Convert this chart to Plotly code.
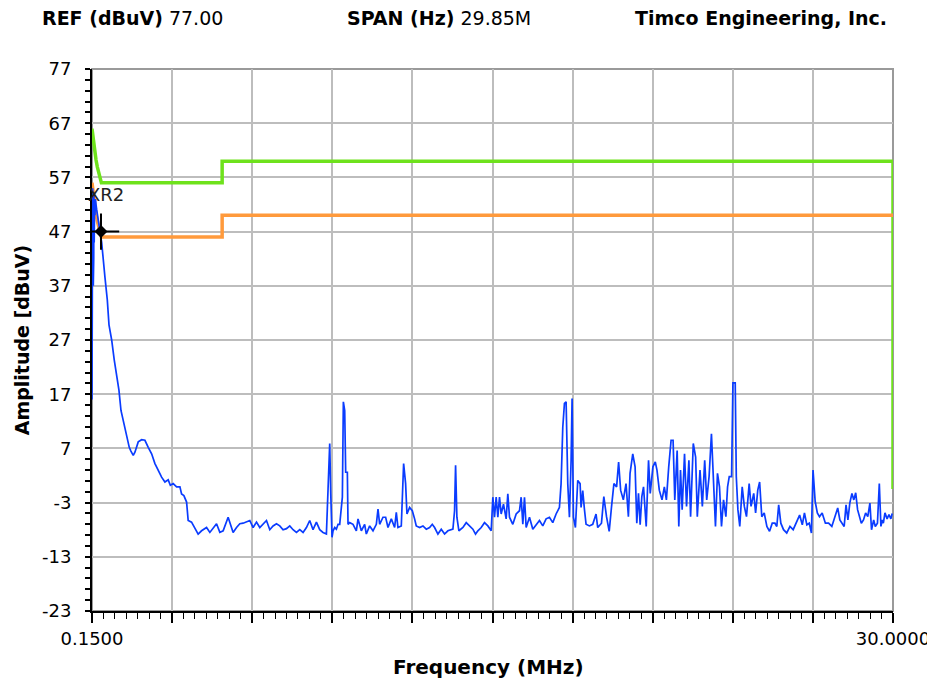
import plotly.graph_objects as go

# ---------------- data ----------------
freq_mhz = [
    0.150, 0.158, 0.166, 0.174, 0.182, 0.190, 0.198, 0.206, 0.214, 0.222, 0.232, 0.245, 0.260, 0.280, 0.300,
    0.325, 0.410, 0.510, 0.634, 0.720, 0.783, 0.883, 0.980, 1.069, 1.155, 1.230, 1.315, 1.378, 1.441, 1.538,
    1.600, 1.687, 1.750, 1.873, 2.000, 2.123, 2.245, 2.372, 2.495, 2.618, 2.744, 2.867, 2.990, 3.070, 3.176,
    3.303, 3.426, 3.488, 3.574, 3.675,
    3.734, 3.860, 3.983, 4.106, 4.233, 4.419, 4.542, 4.665, 4.791, 4.914, 5.037, 5.223, 5.286, 5.409, 5.536,
    5.659, 5.782, 5.908, 6.031, 6.154, 6.280, 6.403, 6.526, 6.652, 6.775, 6.898, 7.024, 7.147, 7.270, 7.397,
    7.520, 7.643, 7.769, 7.892, 8.015, 8.141, 8.264, 8.387, 8.513, 8.636, 8.759,
    8.885, 8.947, 9.009, 9.046, 9.095, 9.133, 9.195, 9.257, 9.319, 9.381, 9.443, 9.480, 9.517, 9.567, 9.604,
    9.666, 9.691, 9.753, 9.877, 10.001, 10.063, 10.187, 10.311, 10.373, 10.497, 10.622, 10.746, 10.808, 10.870,
    10.994, 11.093, 11.180, 11.304, 11.428, 11.490, 11.552, 11.676, 11.763, 11.837, 11.887, 11.986, 12.086,
    12.172, 12.234, 12.359, 12.483, 12.607, 12.731, 12.830, 12.917, 13.041, 13.165, 13.289, 13.413, 13.600,
    13.661, 13.699, 13.748, 13.823, 13.972, 14.096, 14.220, 14.344, 14.443, 14.530, 14.654, 14.778, 14.902,
    15.026, 15.088, 15.150, 15.212, 15.274, 15.336, 15.398, 15.485, 15.584, 15.646, 15.708, 15.832, 15.957,
    16.081, 16.143, 16.205, 16.267, 16.329, 16.453, 16.577, 16.701, 16.825, 16.949, 17.073, 17.197, 17.321,
    17.445, 17.569, 17.631, 17.694, 17.756, 17.818, 17.880, 17.942, 18.004, 18.041, 18.091, 18.165, 18.252,
    18.339, 18.376, 18.438, 18.500, 18.562, 18.686, 18.810, 18.934, 18.996,
    19.136, 19.224, 19.324, 19.424, 19.512, 19.600, 19.700, 19.775, 19.850, 19.951, 20.051, 20.139, 20.201,
    20.302, 20.389, 20.452, 20.515, 20.577, 20.640, 20.703, 20.803, 20.890, 20.953, 21.053, 21.141, 21.204,
    21.291, 21.392, 21.479, 21.555, 21.642, 21.730, 21.805, 21.868, 21.956, 22.018, 22.081, 22.143, 22.231,
    22.306, 22.394, 22.457, 22.557, 22.645, 22.707, 22.808, 22.895, 22.983, 23.058, 23.146, 23.234, 23.309,
    23.384, 23.459, 23.534, 23.609, 23.685, 23.772, 23.835, 23.898, 23.985, 24.035, 24.120, 24.160, 24.220,
    24.290, 24.380, 24.460, 24.540, 24.640, 24.710, 24.810, 24.880, 24.960, 25.030, 25.110, 25.200, 25.300,
    25.400, 25.500, 25.600, 25.670, 25.740, 25.820, 25.920, 26.040, 26.160, 26.280, 26.400, 26.520, 26.620,
    26.700, 26.790, 26.880, 26.960, 27.020, 27.100, 27.180, 27.260, 27.360, 27.480, 27.600, 27.720, 27.840,
    27.940, 28.020, 28.100, 28.180, 28.250, 28.320, 28.390, 28.470, 28.540, 28.610, 28.680, 28.750, 28.820,
    28.900, 28.980, 29.060, 29.140, 29.200, 29.280, 29.340, 29.420, 29.490, 29.550, 29.600, 29.640, 29.700,
    29.780, 29.850, 29.920, 29.970,
]

amp_dbuv = [
    16, 54, 36, 55, 40, 54, 37, 53, 42, 54, 45, 53, 50, 53, 52,
    51, 48, 45, 38.5, 34.4, 29.8, 27, 23.3, 20.2, 17.7, 14, 12.2, 10.7, 9.8, 7.2,
    6.5, 5.7, 6.3, 8.2, 8.6, 8.5, 7.2, 6.0, 4.2, 2.9, 1.7, 0.8, 1.2, 0.2, 0.5,
    -0.1, -0.1, -1.4, -1.7, -2.9,
    -6.3, -6.6, -7.6, -8.8, -8.2, -7.6, -8.5, -7.6, -6.9, -8.5, -8.2, -5.7, -6.6, -8.5, -7.6,
    -6.9, -6.8, -6.6, -6.3, -7.6, -6.6, -7.6, -6.9, -6.3, -8.0, -7.3, -6.9, -7.3, -8.0, -7.8,
    -7.3, -8.0, -8.5, -8.0, -8.5, -7.6, -6.3, -8.0, -6.6, -8.0, -8.5,
    -8.8, -0.5, 7.9, -1.1, -9.4, -8.2, -7.6, -7.9, -7.0, -7.0, -3.3, -2.0, 15.6, 14.0, 2.6,
    2.6, -7.0, -6.7, -7.0, -8.2, -6.0, -8.2, -7.0, -8.8, -7.3, -8.2, -7.0, -4.2, -7.0,
    -5.7, -5.7, -7.6, -6.0, -7.6, -4.8, -7.6, -7.3, 4.2, 0.5, -5.1, -3.9, -4.5,
    -6.0, -7.3, -7.6, -7.3, -7.9, -7.6, -7.0, -7.6, -8.8, -7.9, -8.8, -8.2, -7.9,
    -4.5, 3.9, -5.7, -8.2, -7.6, -6.7, -7.3, -7.9, -8.8, -8.2, -7.6, -6.7, -7.3,
    -8.2, -2.0, -5.7, -2.0, -5.7, -2.0, -5.1, -3.3, -6.0, -1.4, -5.7, -7.0, -5.1,
    -4.5, -2.0, -7.0, -2.0, -7.6, -5.7, -7.9, -7.0, -6.3, -7.3, -6.0, -5.7, -6.7,
    -5.1, -3.9, 0.5, 10.9, 15.3, 15.6, 0.5, -5.7, 4.8, 16.2, -5.7, -7.6, 1.1,
    0.5, -3.9, -0.8, -4.2, -7.0, -7.3, -7.0, -5.1, -7.6,
    -6.8, -1.9, -5.6, -8.3, -3.7, 0.5, -0.1, 4.5, -0.7, -2.5, 0.5, -5.6, 2.4,
    6.0, 3.6, -6.8, -1.3, -7.1, -1.9, -0.1, -7.4, 4.8, -1.3, 3.6, 4.5, 3.0,
    -0.7, -2.5, -0.1, -2.5, 3.6, 8.5, 8.5, -2.5, 6.6, -7.4, 3.0, -4.3, 6.0,
    -3.7, 4.8, -5.6, 7.9, 5.4, -5.6, 3.0, -3.7, 4.8, -2.5, 1.8, 9.7, 1.8,
    -7.4, 2.4, -0.1, -7.4, -2.5, -5.6, -0.1, 1.8, 1.8, 19.1, 19.1, 1.8, -4.3,
    -7.4, -0.1, -3.7, -5.6, 0.5, -3.7, -1.3, -4.9, -0.7, 0.8, -5.6, -4.9, -7.4,
    -8.3, -6.8, -6.8, -7.4, -3.4, -6.8, -8.0, -8.6, -7.4, -8.0, -6.8, -5.3, -7.1,
    -4.9, -7.1, -6.8, -8.6, 3.0, -2.8, -4.9, -5.6, -4.9, -6.8, -6.8, -7.4, -5.6,
    -4.0, -6.2, -6.8, -7.4, -3.4, -6.2, -3.1, -1.3, -2.5, -1.2, -4.3, -5.6, -6.8,
    -6.2, -4.9, -5.6, -3.1, -8.0, -6.2, -7.4, -6.8, 0.5, -7.4, -6.2, -6.8, -4.9,
    -6.0, -5.2, -6.0, -5.0,
]

qp_freq = [0.15, 0.20, 0.25, 0.30, 0.35, 0.40, 0.45, 0.50, 5.0, 5.0, 30.0, 30.0]
qp_limit = [66.0, 63.6, 61.8, 60.2, 58.9, 57.7, 56.8, 56.0, 56.0, 60.0, 60.0, -0.5]
av_freq = [0.15, 0.20, 0.25, 0.30, 0.35, 0.40, 0.45, 0.50, 5.0, 5.0, 30.0]
av_limit = [56.0, 53.6, 51.8, 50.2, 48.9, 47.7, 46.8, 46.0, 46.0, 50.0, 50.0]

marker_freq = [0.485]
marker_amp = [47.0]

y_ticks = [77, 67, 57, 47, 37, 27, 17, 7, -3, -13, -23]
y_labels = ["77", "67", "57", "47", "37", "27", "17", "7", "-3", "-13", "-23"]
x_grid = [0.15, 3.135, 6.12, 9.105, 12.09, 15.075, 18.06, 21.045, 24.03, 27.015, 30.0]
x_labels = ["0.1500", "", "", "", "", "", "", "", "", "", "30.0000"]

ref_text = "77.00"
span_text = "29.85M"
company = "Timco Engineering, Inc."

FONT = "DejaVu Sans"

fig = go.Figure()
fig.add_trace(go.Scatter(x=qp_freq, y=qp_limit, mode="lines",
                         line=dict(color="#6ee21c", width=3.5), hoverinfo="skip"))
fig.add_trace(go.Scatter(x=av_freq, y=av_limit, mode="lines",
                         line=dict(color="#ff9a3c", width=3.5), hoverinfo="skip"))
fig.add_trace(go.Scatter(x=freq_mhz, y=amp_dbuv, mode="lines",
                         line=dict(color="#0a3cff", width=1.7)))
fig.add_trace(go.Scatter(x=marker_freq, y=marker_amp, mode="markers",
                         marker=dict(symbol="cross-thin", size=26, line=dict(color="black", width=2))))
fig.add_trace(go.Scatter(x=marker_freq, y=marker_amp, mode="markers",
                         marker=dict(symbol="diamond", size=10, color="black")))

fig.add_annotation(x=0.15, y=53.8, xref="x", yref="y", text="XR2", showarrow=False,
                   xanchor="left", xshift=-6, font=dict(family=FONT, size=18, color="#222"))

fig.add_shape(type="rect", xref="paper", yref="paper", x0=0, x1=1, y0=0, y1=1,
              line=dict(color="#9a9a9a", width=2), layer="below")

fig.add_annotation(xref="paper", yref="paper", x=-0.065, y=1.094, xanchor="left", yanchor="middle",
                   text="<b>REF (dBuV)</b> " + ref_text, showarrow=False,
                   font=dict(family=FONT, size=19, color="black"))
fig.add_annotation(xref="paper", yref="paper", x=0.316, y=1.094, xanchor="left", yanchor="middle",
                   text="<b>SPAN (Hz)</b> " + span_text, showarrow=False,
                   font=dict(family=FONT, size=19, color="black"))
fig.add_annotation(xref="paper", yref="paper", x=0.995, y=1.094, xanchor="right", yanchor="middle",
                   text="<b>" + company + "</b>", showarrow=False,
                   font=dict(family=FONT, size=19, color="black"))
fig.add_annotation(xref="paper", yref="paper", x=0.495, y=-0.103, xanchor="center", yanchor="middle",
                   text="<b>Frequency (MHz)</b>", showarrow=False,
                   font=dict(family=FONT, size=20, color="black"))
fig.add_annotation(xref="paper", yref="paper", x=-0.087, y=0.5, xanchor="center", yanchor="middle",
                   text="<b>Amplitude [dBuV)</b>", textangle=-90, showarrow=False,
                   font=dict(family=FONT, size=19, color="black"))

# the page body adds an 8 px offset, so the figure is 8 px smaller and margins are shifted
fig.update_layout(
    width=927, height=675,
    margin=dict(l=84, r=42, t=61, b=72, autoexpand=False),
    paper_bgcolor="white", plot_bgcolor="white",
    showlegend=False,
    font=dict(family=FONT, size=18, color="black"),
)
fig.update_xaxes(
    range=[0.15, 30.0], tickmode="array", tickvals=x_grid, ticktext=x_labels, automargin=False,
    showgrid=True, gridcolor="#bdbdbd", gridwidth=2, zeroline=False,
    showline=True, linecolor="black", linewidth=2,
    ticks="outside", ticklen=10, tickwidth=1.5, tickcolor="black",
    tickfont=dict(family=FONT, size=18, color="black"),
    minor=dict(dtick=2.985 / 7, tick0=0.15, ticks="outside", ticklen=6, tickwidth=1, tickcolor="black", showgrid=False),
)
fig.update_yaxes(
    range=[-23, 77], tickmode="array", tickvals=y_ticks, ticktext=y_labels, automargin=False,
    showgrid=True, gridcolor="#bdbdbd", gridwidth=2, zeroline=False,
    showline=True, linecolor="black", linewidth=2,
    ticks="outside", ticklen=5, tickwidth=2, tickcolor="black", ticklabelstandoff=10,
    tickfont=dict(family=FONT, size=18, color="black"),
    minor=dict(dtick=2, tick0=-23, ticks="outside", ticklen=5, tickwidth=2, tickcolor="black", showgrid=False),
)

fig.write_html("out.html")
